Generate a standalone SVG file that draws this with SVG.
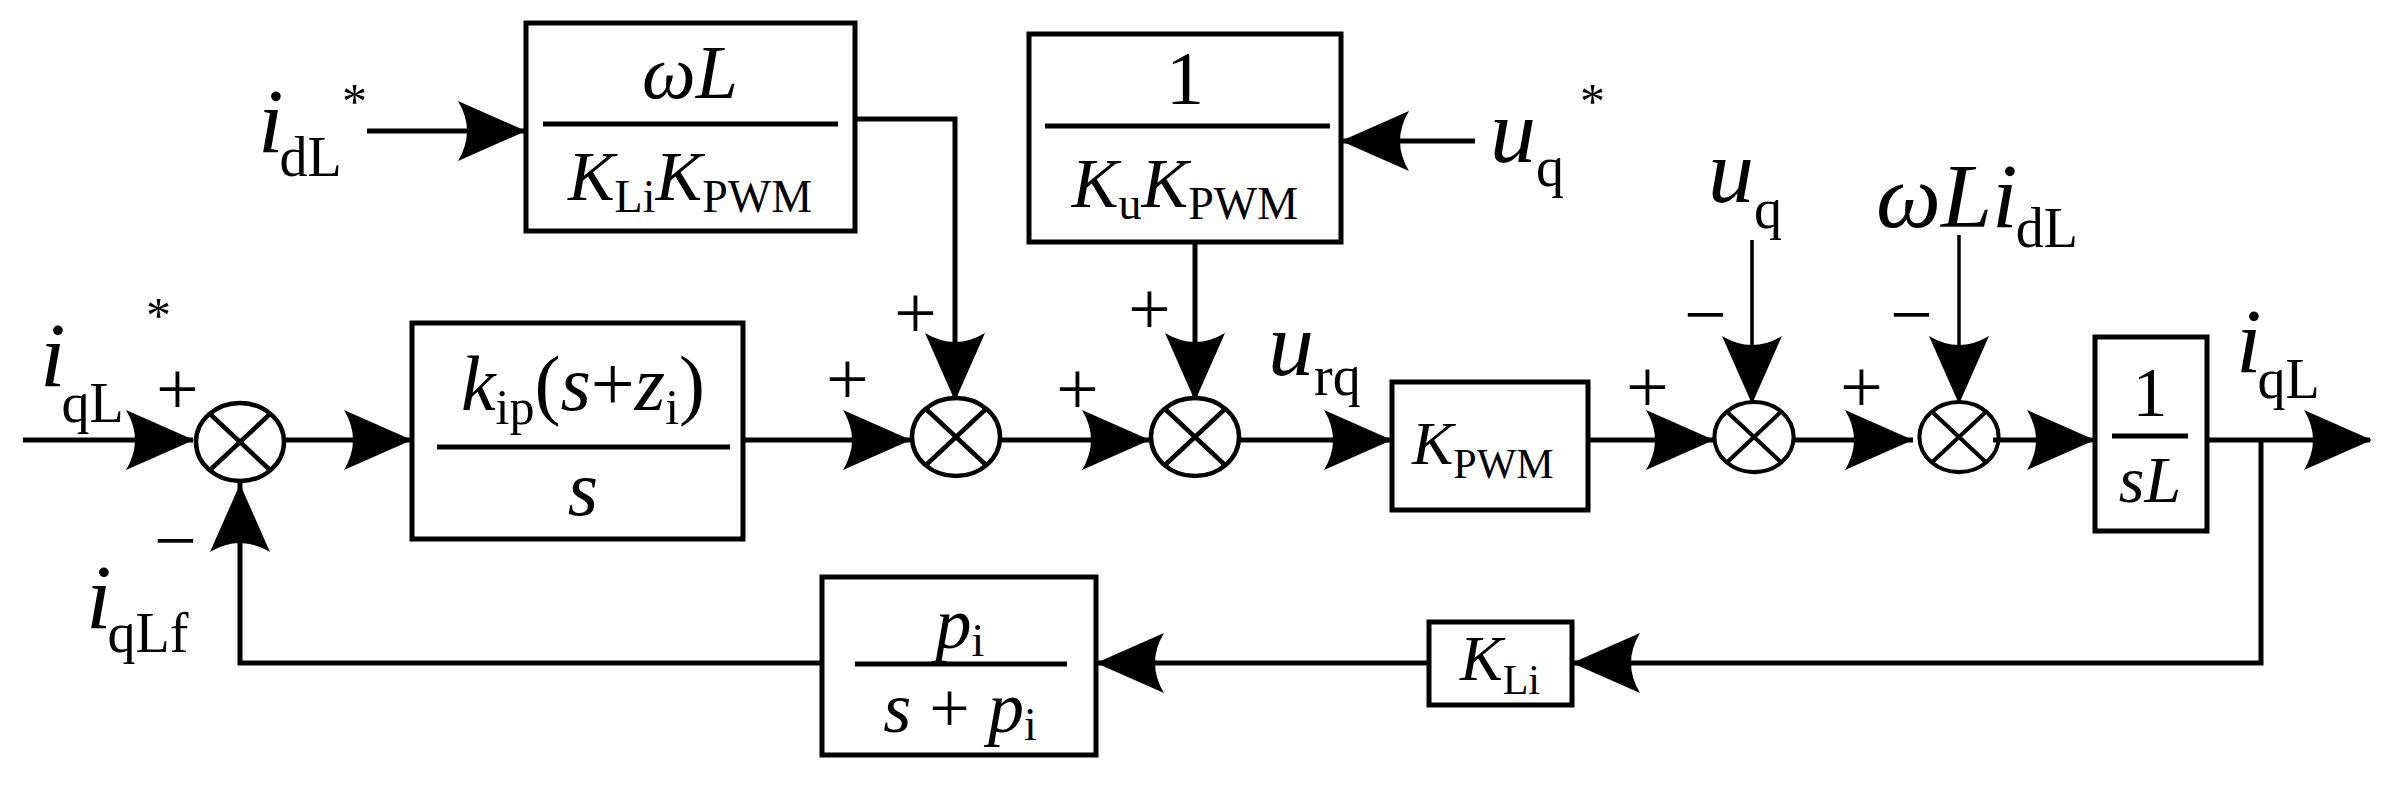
<svg xmlns="http://www.w3.org/2000/svg" width="2392" height="791" viewBox="0 0 2392 791">
<style>
.ln{fill:none;stroke:#000;stroke-width:5}
.th{fill:none;stroke:#000;stroke-width:3.5}
.bx{fill:#fff;stroke:#000;stroke-width:5}
.sm{fill:none;stroke:#000;stroke-width:4.5}
text{font-family:"Liberation Serif","Times New Roman",serif;fill:#000}
.v{font-style:italic}
.big{font-size:92px}
.sub{font-size:56px;font-style:normal}
.sg{font-size:76px}
.st{font-size:50px}
</style>
<defs>
<path id="ah" d="M0 0 L-68 -30 Q-50 0 -68 30 Z" fill="#000"/>
<g id="sum"><ellipse cx="0" cy="0" rx="44" ry="39" class="sm"/><path d="M-30 -28 L30 28 M30 -28 L-30 28" class="sm"/></g>
</defs>
<g id="connectors">
<path class="ln" d="M23 440 H193 M286 440 H412 M743 440 H910 M855 119 H955 V400 M367 131 H526 M1002 440 H1149 M1195 242 V400 M1475 141 H1341 M1241 440 H1392 M1588 440 H1714 M1794 440 H1913 M1993 440 H2095 M2207 440 H2370 M2261 440 V663 H1572 M1429 663 H1096 M822 663 H240 V481"/>
<path class="th" d="M1752 240 V404 M1959 235 V404"/>
<use href="#ah" transform="translate(194,440)"/>
<use href="#ah" transform="translate(412,440)"/>
<use href="#ah" transform="translate(911,440)"/>
<use href="#ah" transform="translate(955,401) rotate(90)"/>
<use href="#ah" transform="translate(526,131)"/>
<use href="#ah" transform="translate(1150,440)"/>
<use href="#ah" transform="translate(1195,401) rotate(90)"/>
<use href="#ah" transform="translate(1341,141) rotate(180)"/>
<use href="#ah" transform="translate(1392,440)"/>
<use href="#ah" transform="translate(1714,440)"/>
<use href="#ah" transform="translate(1752,404) rotate(90)"/>
<use href="#ah" transform="translate(1913,440)"/>
<use href="#ah" transform="translate(1959,404) rotate(90)"/>
<use href="#ah" transform="translate(2095,440)"/>
<use href="#ah" transform="translate(2372,440)"/>
<use href="#ah" transform="translate(1572,663) rotate(180)"/>
<use href="#ah" transform="translate(1096,663) rotate(180)"/>
<use href="#ah" transform="translate(240,484) rotate(-90)"/>
</g>
<g id="sum1"><use href="#sum" transform="translate(240,442)"/></g>
<g id="sum2"><use href="#sum" transform="translate(956,437)"/></g>
<g id="sum3"><use href="#sum" transform="translate(1195,437)"/></g>
<g id="sum4"><use href="#sum" transform="translate(1754,437) scale(0.9)"/></g>
<g id="sum5"><use href="#sum" transform="translate(1959,437) scale(0.9)"/></g>
<g id="pi-block">
<rect class="bx" x="412" y="323" width="331" height="216"/>
<line class="ln" x1="437" y1="447" x2="730" y2="447"/>
<text x="583" y="410" text-anchor="middle" font-size="78"><tspan class="v">k</tspan><tspan font-size="50" dy="14">ip</tspan><tspan dy="-14">(</tspan><tspan class="v">s</tspan>+<tspan class="v">z</tspan><tspan font-size="50" dy="14">i</tspan><tspan dy="-14">)</tspan></text>
<text x="583" y="515" text-anchor="middle" font-size="78" class="v">s</text>
</g>
<g id="wl-block">
<rect class="bx" x="526" y="23" width="329" height="208"/>
<line class="ln" x1="543" y1="124" x2="838" y2="124"/>
<text x="690" y="98" text-anchor="middle" font-size="76" class="v">ωL</text>
<text x="690" y="200" text-anchor="middle" font-size="70"><tspan class="v">K</tspan><tspan font-size="46" dy="12">Li</tspan><tspan class="v" dy="-12">K</tspan><tspan font-size="46" dy="12">PWM</tspan></text>
</g>
<g id="ku-block">
<rect class="bx" x="1029" y="34" width="312" height="208"/>
<line class="ln" x1="1045" y1="126" x2="1330" y2="126"/>
<text x="1185" y="104" text-anchor="middle" font-size="76">1</text>
<text x="1185" y="207" text-anchor="middle" font-size="70"><tspan class="v">K</tspan><tspan font-size="46" dy="12">u</tspan><tspan class="v" dy="-12">K</tspan><tspan font-size="46" dy="12">PWM</tspan></text>
</g>
<g id="kpwm-block">
<rect class="bx" x="1392" y="382" width="196" height="128"/>
<text x="1412" y="464" font-size="62"><tspan class="v">K</tspan><tspan font-size="42" dy="14">PWM</tspan></text>
</g>
<g id="sl-block">
<rect class="bx" x="2095" y="337" width="112" height="194"/>
<line class="ln" x1="2112" y1="436" x2="2188" y2="436"/>
<text x="2150" y="416" text-anchor="middle" font-size="70">1</text>
<text x="2150" y="502" text-anchor="middle" font-size="66" class="v">sL</text>
</g>
<g id="kli-block">
<rect class="bx" x="1429" y="622" width="143" height="83"/>
<text x="1500" y="680" text-anchor="middle" font-size="64"><tspan class="v">K</tspan><tspan font-size="42" dy="14">Li</tspan></text>
</g>
<g id="filter-block">
<rect class="bx" x="822" y="577" width="274" height="178"/>
<line class="ln" x1="855" y1="664" x2="1067" y2="664"/>
<text x="960" y="648" text-anchor="middle" font-size="72"><tspan class="v">p</tspan><tspan font-size="46" dy="8">i</tspan></text>
<text x="960" y="732" text-anchor="middle" font-size="72"><tspan class="v">s</tspan> + <tspan class="v">p</tspan><tspan font-size="46" dy="8">i</tspan></text>
</g>
<g id="labels">
<text x="40" y="386" class="big v">i<tspan class="sub" dy="36" dx="-4">qL</tspan></text><text x="146" y="332" class="st">*</text>
<text x="156" y="414" class="sg">+</text>
<text x="154" y="566" class="sg">−</text>
<text x="86" y="628" class="big v">i<tspan class="sub" dy="24" dx="-4">qLf</tspan></text>
<text x="258" y="152" class="big v">i<tspan class="sub" dy="24" dx="-4">dL</tspan></text><text x="342" y="118" class="st">*</text>
<text x="894" y="338" class="sg">+</text>
<text x="826" y="404" class="sg">+</text>
<text x="1128" y="334" class="sg">+</text>
<text x="1056" y="414" class="sg">+</text>
<text x="1490" y="162" class="big v">u<tspan class="sub" dy="24">q</tspan></text><text x="1580" y="118" class="st">*</text>
<text x="1268" y="375" class="big v">u<tspan class="sub" dy="20">rq</tspan></text>
<text x="1626" y="412" class="sg">+</text>
<text x="1684" y="340" class="sg">−</text>
<text x="1708" y="202" class="big v">u<tspan class="sub" dy="26">q</tspan></text>
<text x="1840" y="412" class="sg">+</text>
<text x="1890" y="340" class="sg">−</text>
<text x="1876" y="227" class="big v">ωLi<tspan class="sub" dy="20" dx="-2">dL</tspan></text>
<text x="2236" y="372" class="big v">i<tspan class="sub" dy="26" dx="-4">qL</tspan></text>
</g>
</svg>
